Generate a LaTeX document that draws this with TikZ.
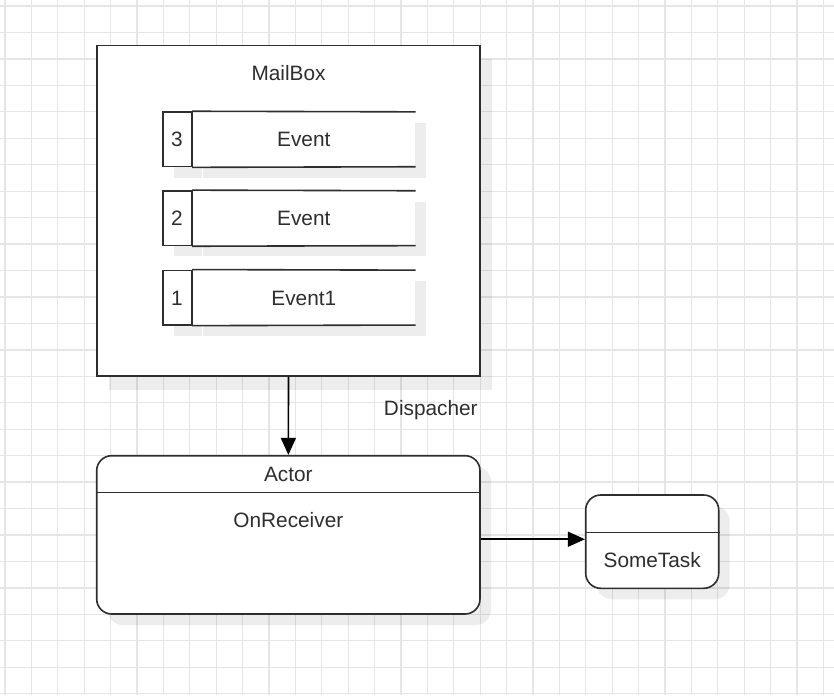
\documentclass[tikz,border=0pt]{standalone}
\usepackage{fontspec}
\setmainfont{Liberation Sans}
\usetikzlibrary{arrows.meta,shadows}
\definecolor{ink}{HTML}{2E2E2E}
\definecolor{gridc}{HTML}{E6E6E6}
\tikzset{
  gridline/.style={draw=gridc, line width=1.3pt},
  txt/.style={font=\fontsize{20.8pt}{24pt}\selectfont, text=ink, inner sep=0pt, text height=14.8pt, text depth=0pt},
  boxstyle/.style={draw=ink, line width=1.6pt, fill=white, inner sep=0pt},
  shad/.style={drop shadow={shadow xshift=11pt, shadow yshift=-11pt, fill=black, opacity=0.07}},
  bigshad/.style={drop shadow={shadow xshift=12pt, shadow yshift=-14pt, fill=black, opacity=0.07}},
  numcell/.style={boxstyle, shad, minimum width=28.6pt, minimum height=54.5pt, txt},
  evcell/.style={fill=white, shad, inner sep=0pt, minimum width=223pt, minimum height=54.5pt, anchor=west, txt},
  edge/.style={draw=ink, line width=1.6pt},
  arr/.style={draw=black, line width=1.6pt, -{Triangle[width=15pt,length=17pt,fill=black]}},
}
\begin{document}
\begin{tikzpicture}[x=1pt,y=-1pt]
\useasboundingbox (0,0) rectangle (834,695);
\fill[white] (0,0) rectangle (834,695);
% grid
\foreach \i in {0,...,31} \draw[gridline] ({5+26.4*\i},0) -- ({5+26.4*\i},695);
\foreach \j in {0,...,26} \draw[gridline] (0,{6+26.45*\j}) -- (834,{6+26.45*\j});

% MailBox
\node[boxstyle, bigshad, minimum width=383pt, minimum height=330.5pt] (mailbox) at (288.5,210.75) {};
\node[txt] (mailboxlabel) at (288.5,73) {MailBox};

% rows
\node[numcell] (n3) at (177,139.3) {3};
\node[evcell] (e3) at (n3.east) {Event};
\node[numcell] (n2) at (177,218.2) {2};
\node[evcell] (e2) at (n2.east) {Event};
\node[numcell] (n1) at (177,297.6) {1};
\node[evcell] (e1) at (n1.east) {Event1};
\foreach \r in {1,2,3}{
  \draw[edge] (n\r.north east) -- (e\r.north east);
  \draw[edge] (n\r.south east) -- (e\r.south east);
  \draw[edge] (n\r.north east) -- (n\r.south east);
}

% Dispacher
\node[txt] (disp) at (430.8,408) {Dispacher};

% Actor
\node[boxstyle, shad, rounded corners=15pt, minimum width=383.3pt, minimum height=158.3pt] (actor) at (288.35,534.85) {};
\draw[edge] ([yshift=-37.6pt]actor.north west) -- ([yshift=-37.6pt]actor.north east);
\node[txt] (actortitle) at (288.35,474) {Actor};
\node[txt] (actorbody) at (288.35,520) {OnReceiver};

% SomeTask
\node[boxstyle, shad, rounded corners=15pt, minimum width=133pt, minimum height=93.3pt] (task) at (652.2,541.65) {};
\draw[edge] ([yshift=-38.3pt]task.north west) -- ([yshift=-38.3pt]task.north east);
\node[txt] (tasklabel) at (652.2,560) {SomeTask};

% connectors
\draw[arr] (mailbox.south) -- (actor.north);
\draw[arr] ([yshift=-4.4pt]actor.east) -- ([yshift=-4.4pt]actor.east -| task.west);
\end{tikzpicture}
\end{document}
